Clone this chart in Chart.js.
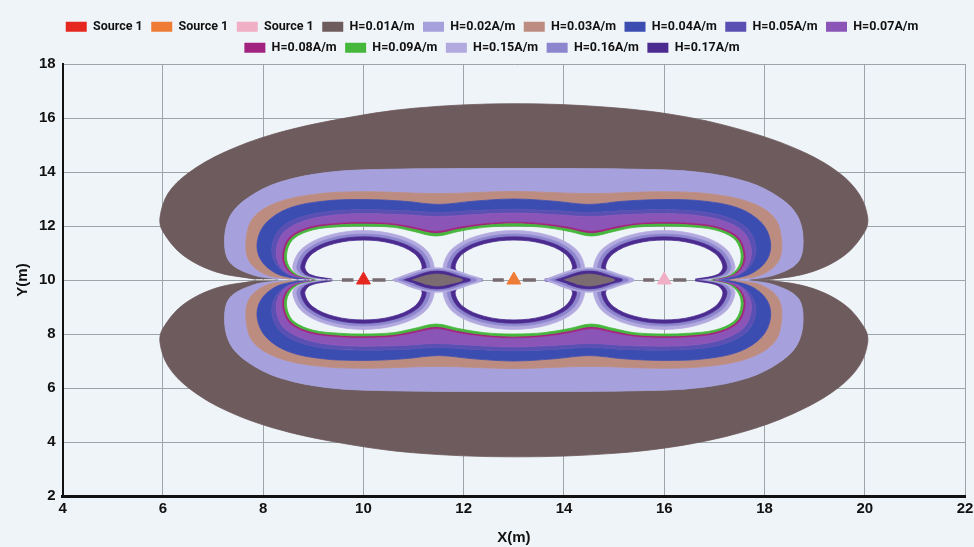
<!DOCTYPE html>
<html>
<head>
<meta charset="utf-8">
<script src="https://cdn.jsdelivr.net/npm/chart.js@4.4.1/dist/chart.umd.min.js"></script>
<style>
  html, body { margin: 0; padding: 0; background: #eff4f8; }
  #wrap { width: 974px; height: 547px; }
</style>
</head>
<body>
<div id="wrap"><canvas id="chart" width="974" height="547"></canvas></div>
<script>
// ---- Sources ----
const sourceLabels = ['Source 1', 'Source 1', 'Source 1'];
const sourceColors = ['#e5271f', '#ee7b36', '#f1afc6'];
const sourceX = [10, 13, 16];
const sourceY = [10, 10, 10];

// ---- Field-strength levels ----
const levelLabels = ['H=0.01A/m', 'H=0.02A/m', 'H=0.03A/m', 'H=0.04A/m', 'H=0.05A/m', 'H=0.07A/m',
                     'H=0.08A/m', 'H=0.09A/m', 'H=0.15A/m', 'H=0.16A/m', 'H=0.17A/m'];
const levelColors = ['#6d5b5d', '#a6a1dc', '#bd8c80', '#3c4db2', '#5a50b3', '#8b55b8',
                     '#a2237f', '#45b83c', '#b2a9df', '#8d86ce', '#4b2b8f'];

// ---- Contour outlines (upper half y > 10, lower half y < 10, same x list) ----
const c01X  = [7.85, 7.06, 6.4, 6.0, 5.94, 6.1, 6.5, 7.2, 8.2, 9.5, 11.0, 13.0, 15.0, 16.5, 17.8, 18.8, 19.5, 19.9, 20.06, 20.0, 19.6, 18.94, 18.15];
const c01Up = [10.03, 10.3, 10.92, 11.79, 12.3, 13.2, 13.95, 14.71, 15.4, 15.95, 16.36, 16.53, 16.38, 16.02, 15.42, 14.72, 13.95, 13.15, 12.3, 11.79, 10.92, 10.3, 10.03];
const c01Dn = [9.97, 9.7, 9.08, 8.21, 7.7, 6.82, 6.02, 5.22, 4.52, 3.98, 3.6, 3.45, 3.58, 3.92, 4.5, 5.25, 6.05, 6.85, 7.7, 8.21, 9.08, 9.7, 9.97];

const c02X  = [8.3, 7.79, 7.33, 7.23, 7.35, 7.7, 8.32, 9.3, 10.5, 13.0, 15.5, 16.7, 17.68, 18.3, 18.65, 18.77, 18.67, 18.21, 17.7];
const c02Up = [10.03, 10.19, 10.67, 11.5, 12.4, 13.05, 13.62, 13.99, 14.1, 14.13, 14.1, 13.99, 13.62, 13.05, 12.4, 11.5, 10.67, 10.19, 10.03];
const c02Dn = [9.97, 9.81, 9.33, 8.5, 7.6, 6.95, 6.38, 6.01, 5.9, 5.87, 5.9, 6.01, 6.38, 6.95, 7.6, 8.5, 9.33, 9.81, 9.97];

const c03X  = [8.55, 8.05, 7.72, 7.66, 7.8, 8.25, 9.0, 10.0, 11.5, 13.0, 14.5, 16.0, 17.0, 17.75, 18.2, 18.34, 18.28, 17.95, 17.45];
const c03Up = [10.03, 10.2, 10.7, 11.5, 12.3, 12.85, 13.17, 13.27, 13.2, 13.28, 13.2, 13.27, 13.17, 12.85, 12.3, 11.5, 10.7, 10.2, 10.03];
const c03Dn = [9.97, 9.8, 9.3, 8.5, 7.7, 7.15, 6.83, 6.73, 6.8, 6.72, 6.8, 6.73, 6.83, 7.15, 7.7, 8.5, 9.3, 9.8, 9.97];

const c04X  = [8.7, 8.25, 7.95, 7.88, 8.05, 8.5, 9.2, 10.0, 10.8, 11.5, 12.2, 13.0, 13.8, 14.5, 15.2, 16.0, 16.8, 17.5, 17.95, 18.12, 18.05, 17.75, 17.3];
const c04Up = [10.03, 10.25, 10.75, 11.4, 12.1, 12.65, 12.92, 12.98, 12.92, 12.8, 12.92, 13.0, 12.92, 12.8, 12.92, 12.98, 12.92, 12.65, 12.1, 11.4, 10.75, 10.25, 10.03];
const c04Dn = [9.97, 9.75, 9.25, 8.6, 7.9, 7.35, 7.08, 7.02, 7.08, 7.2, 7.08, 7.0, 7.08, 7.2, 7.08, 7.02, 7.08, 7.35, 7.9, 8.6, 9.25, 9.75, 9.97];

const c05X  = [8.85, 8.45, 8.22, 8.18, 8.34, 8.75, 9.35, 10.0, 10.8, 11.5, 12.2, 13.0, 13.8, 14.5, 15.2, 16.0, 16.65, 17.25, 17.66, 17.82, 17.78, 17.55, 17.15];
const c05Up = [10.03, 10.25, 10.7, 11.3, 11.9, 12.33, 12.55, 12.6, 12.57, 12.5, 12.57, 12.62, 12.57, 12.5, 12.57, 12.6, 12.55, 12.33, 11.9, 11.3, 10.7, 10.25, 10.03];
const c05Dn = [9.97, 9.75, 9.3, 8.7, 8.1, 7.67, 7.45, 7.4, 7.43, 7.5, 7.43, 7.38, 7.43, 7.5, 7.43, 7.4, 7.45, 7.67, 8.1, 8.7, 9.3, 9.75, 9.97];

const c07X  = [8.92, 8.5, 8.3, 8.27, 8.42, 8.84, 9.4, 10.0, 10.8, 11.45, 12.2, 13.0, 13.8, 14.55, 15.2, 16.0, 16.6, 17.16, 17.58, 17.73, 17.7, 17.5, 17.08];
const c07Up = [10.03, 10.22, 10.65, 11.2, 11.78, 12.2, 12.4, 12.45, 12.42, 12.35, 12.42, 12.48, 12.42, 12.35, 12.42, 12.45, 12.4, 12.2, 11.78, 11.2, 10.65, 10.22, 10.03];
const c07Dn = [9.97, 9.78, 9.35, 8.8, 8.22, 7.8, 7.6, 7.55, 7.58, 7.65, 7.58, 7.52, 7.58, 7.65, 7.58, 7.55, 7.6, 7.8, 8.22, 8.8, 9.35, 9.78, 9.97];

const c08X  = [9.0, 8.58, 8.41, 8.4, 8.54, 8.93, 9.5, 10.0, 10.6, 11.0, 11.45, 11.9, 12.4, 13.0, 13.6, 14.1, 14.55, 15.0, 15.4, 16.0, 16.5, 17.07, 17.46, 17.6, 17.59, 17.42, 17.0];
const c08Up = [10.03, 10.22, 10.6, 11.1, 11.61, 11.96, 12.1, 12.13, 12.08, 11.95, 11.8, 11.95, 12.08, 12.14, 12.08, 11.95, 11.8, 11.95, 12.08, 12.13, 12.1, 11.96, 11.61, 11.1, 10.6, 10.22, 10.03];
const c08Dn = [9.97, 9.78, 9.4, 8.9, 8.39, 8.04, 7.9, 7.87, 7.92, 8.05, 8.2, 8.05, 7.92, 7.86, 7.92, 8.05, 8.2, 8.05, 7.92, 7.87, 7.9, 8.04, 8.39, 8.9, 9.4, 9.78, 9.97];

const c09X  = [9.03, 8.62, 8.45, 8.44, 8.58, 8.97, 9.5, 10.0, 10.6, 11.0, 11.45, 11.9, 12.4, 13.0, 13.6, 14.1, 14.55, 15.0, 15.4, 16.0, 16.5, 17.03, 17.42, 17.56, 17.55, 17.38, 16.97];
const c09Up = [10.03, 10.22, 10.6, 11.1, 11.58, 11.91, 12.04, 12.07, 12.02, 11.88, 11.72, 11.88, 12.02, 12.08, 12.02, 11.88, 11.72, 11.88, 12.02, 12.07, 12.04, 11.91, 11.58, 11.1, 10.6, 10.22, 10.03];
const c09Dn = [9.97, 9.78, 9.4, 8.9, 8.42, 8.09, 7.96, 7.93, 7.98, 8.12, 8.28, 8.12, 7.98, 7.92, 7.98, 8.12, 8.28, 8.12, 7.98, 7.93, 7.96, 8.09, 8.42, 8.9, 9.4, 9.78, 9.97];

// inner edge of the H=0.09 band (the unshaded gap up to 0.15 lies inside it)
const c10X  = [9.06, 8.66, 8.49, 8.48, 8.62, 9.0, 9.5, 10.0, 10.6, 11.0, 11.45, 11.9, 12.4, 13.0, 13.6, 14.1, 14.55, 15.0, 15.4, 16.0, 16.5, 17.0, 17.38, 17.52, 17.51, 17.34, 16.94];
const c10Up = [10.03, 10.22, 10.6, 11.1, 11.55, 11.86, 11.97, 12.0, 11.95, 11.8, 11.63, 11.8, 11.95, 12.0, 11.95, 11.8, 11.63, 11.8, 11.95, 12.0, 11.97, 11.86, 11.55, 11.1, 10.6, 10.22, 10.03];
const c10Dn = [9.97, 9.78, 9.4, 8.9, 8.45, 8.14, 8.03, 8.0, 8.05, 8.2, 8.37, 8.2, 8.05, 8.0, 8.05, 8.2, 8.37, 8.2, 8.05, 8.0, 8.03, 8.14, 8.45, 8.9, 9.4, 9.78, 9.97];

// ---- Rings around each source (0.15 / 0.16 / 0.17 outer edges, then the inner hole) ----
const r15Up = [10.03, 10.2, 10.5, 11.17, 11.65, 11.83, 11.65, 11.17, 10.5, 10.2, 10.03];
const r15Dn = [9.97, 9.8, 9.5, 8.83, 8.35, 8.17, 8.35, 8.83, 9.5, 9.8, 9.97];
const r15X = [
  [9.1, 8.69, 8.59, 8.78, 9.3, 10.0, 10.7, 11.22, 11.41, 11.31, 10.9],
  [12.1, 11.69, 11.59, 11.78, 12.3, 13.0, 13.7, 14.22, 14.41, 14.31, 13.9],
  [15.1, 14.69, 14.59, 14.78, 15.3, 16.0, 16.7, 17.22, 17.41, 17.31, 16.9]
];
const r16Up = [10.03, 10.2, 10.5, 11.1, 11.54, 11.7, 11.54, 11.1, 10.5, 10.2, 10.03];
const r16Dn = [9.97, 9.8, 9.5, 8.9, 8.46, 8.3, 8.46, 8.9, 9.5, 9.8, 9.97];
const r16X = [
  [9.19, 8.77, 8.67, 8.85, 9.34, 10.0, 10.66, 11.15, 11.33, 11.23, 10.81],
  [12.19, 11.77, 11.67, 11.85, 12.34, 13.0, 13.66, 14.15, 14.33, 14.23, 13.81],
  [15.19, 14.77, 14.67, 14.85, 15.34, 16.0, 16.66, 17.15, 17.33, 17.23, 16.81]
];
const r17Up = [10.03, 10.2, 10.5, 11.05, 11.45, 11.6, 11.45, 11.05, 10.5, 10.2, 10.03];
const r17Dn = [9.97, 9.8, 9.5, 8.95, 8.55, 8.4, 8.55, 8.95, 9.5, 9.8, 9.97];
const r17X = [
  [9.28, 8.85, 8.75, 8.92, 9.38, 10.0, 10.62, 11.08, 11.25, 11.15, 10.72],
  [12.28, 11.85, 11.75, 11.92, 12.38, 13.0, 13.62, 14.08, 14.25, 14.15, 13.72],
  [15.28, 14.85, 14.75, 14.92, 15.38, 16.0, 16.62, 17.08, 17.25, 17.15, 16.72]
];
const r18Up = [10.03, 10.2, 10.5, 10.99, 11.35, 11.48, 11.35, 10.99, 10.5, 10.2, 10.03];
const r18Dn = [9.97, 9.8, 9.5, 9.01, 8.65, 8.52, 8.65, 9.01, 9.5, 9.8, 9.97];
const r18X = [
  [9.38, 8.94, 8.83, 8.99, 9.42, 10.0, 10.58, 11.01, 11.17, 11.06, 10.62],
  [12.38, 11.94, 11.83, 11.99, 12.42, 13.0, 13.58, 14.01, 14.17, 14.06, 13.62],
  [15.38, 14.94, 14.83, 14.99, 15.42, 16.0, 16.58, 17.01, 17.17, 17.06, 16.62]
];

// ---- Lens-shaped cells on y = 10 between neighbouring sources ----
const d15Y = [10.0, 10.2, 10.38, 10.45, 10.38, 10.2, 10.0, 9.8, 9.62, 9.55, 9.62, 9.8];
const d15X = [
  [10.57, 10.85, 11.15, 11.47, 11.79, 12.09, 12.37, 12.09, 11.79, 11.47, 11.15, 10.85],
  [13.6, 13.88, 14.18, 14.5, 14.82, 15.12, 15.4, 15.12, 14.82, 14.5, 14.18, 13.88]
];
const d16Y = [10.0, 10.17, 10.33, 10.39, 10.33, 10.17, 10.0, 9.83, 9.67, 9.61, 9.67, 9.83];
const d16X = [
  [10.68, 10.94, 11.2, 11.47, 11.74, 12.0, 12.26, 12.0, 11.74, 11.47, 11.2, 10.94],
  [13.71, 13.97, 14.23, 14.5, 14.77, 15.03, 15.29, 15.03, 14.77, 14.5, 14.23, 13.97]
];
const d17Y = [10.0, 10.14, 10.28, 10.33, 10.28, 10.14, 10.0, 9.86, 9.72, 9.67, 9.72, 9.86];
const d17X = [
  [10.8, 11.03, 11.25, 11.47, 11.69, 11.91, 12.14, 11.91, 11.69, 11.47, 11.25, 11.03],
  [13.83, 14.06, 14.28, 14.5, 14.72, 14.94, 15.17, 14.94, 14.72, 14.5, 14.28, 14.06]
];
const coreY = [10.0, 10.14, 10.22, 10.14, 10.0, 9.86, 9.78, 9.86];
const coreX = [
  [10.97, 11.2, 11.47, 11.74, 11.98, 11.74, 11.47, 11.2],
  [14.0, 14.23, 14.5, 14.77, 15.01, 14.77, 14.5, 14.23]
];

// ---- Short low-field streaks along y = 10 beside each source ----
const streakStart = [9.57, 10.18, 12.58, 13.18, 15.58, 16.18];
const streakEnd   = [9.8, 10.44, 12.8, 13.44, 15.8, 16.44];
const streakColor = '#776a6e';

// ---------------------------------------------------------------------------
const FONT = "'Liberation Sans', Arial, sans-serif";

function pts(xs, ys) { return xs.map((x, i) => ({ x, y: ys[i] })); }
function bandPath(ox, oy, ix, iy) { return pts(ox, oy).concat(pts(ix, iy).reverse()); }

let order = 1000;
function area(data, color) {
  return {
    type: 'line', data, fill: 'shape', tension: 0.35,
    backgroundColor: color, borderColor: color, borderWidth: 0.8,
    pointRadius: 0, pointHoverRadius: 0, order: order--
  };
}

const datasets = [];
const bandEdges = [
  [c01X, c01Up, c01Dn], [c02X, c02Up, c02Dn], [c03X, c03Up, c03Dn], [c04X, c04Up, c04Dn],
  [c05X, c05Up, c05Dn], [c07X, c07Up, c07Dn], [c08X, c08Up, c08Dn], [c09X, c09Up, c09Dn],
  [c10X, c10Up, c10Dn]
];
// the eight outer bands: each lies between one outline and the next
for (let k = 0; k < 8; k++) {
  const [ox, oUp, oDn] = bandEdges[k];
  const [ix, iUp, iDn] = bandEdges[k + 1];
  datasets.push(area(bandPath(ox, oUp, ix, iUp), levelColors[k]));
  datasets.push(area(bandPath(ox, oDn, ix, iDn), levelColors[k]));
}
// rings round the three sources
const ringEdges = [[r15X, r15Up, r15Dn], [r16X, r16Up, r16Dn], [r17X, r17Up, r17Dn], [r18X, r18Up, r18Dn]];
for (let k = 0; k < 3; k++) {
  const [ox, oUp, oDn] = ringEdges[k];
  const [ix, iUp, iDn] = ringEdges[k + 1];
  for (let s = 0; s < 3; s++) {
    datasets.push(area(bandPath(ox[s], oUp, ix[s], iUp), levelColors[8 + k]));
    datasets.push(area(bandPath(ox[s], oDn, ix[s], iDn), levelColors[8 + k]));
  }
}
// lens cells
const lensLayers = [[d15X, d15Y, levelColors[8]], [d16X, d16Y, levelColors[9]], [d17X, d17Y, levelColors[10]], [coreX, coreY, '#7a6c70']];
for (const [xs, ys, col] of lensLayers) {
  for (let s = 0; s < 2; s++) datasets.push(area(pts(xs[s], ys), col));
}
// streaks
const streakData = [];
streakStart.forEach((x0, i) => {
  if (i > 0) streakData.push({ x: (streakEnd[i - 1] + x0) / 2, y: null });
  streakData.push({ x: x0, y: 10 }, { x: streakEnd[i], y: 10 });
});
datasets.push({
  type: 'line', data: streakData, borderColor: streakColor, borderWidth: 3.5,
  pointRadius: 0, fill: false, spanGaps: false, order: order--
});
// source markers
sourceX.forEach((x, i) => {
  datasets.push({
    type: 'line', label: sourceLabels[i], data: [{ x, y: sourceY[i] }], showLine: false,
    pointStyle: 'triangle', pointRadius: 8, pointBackgroundColor: sourceColors[i],
    pointBorderColor: sourceColors[i], pointBorderWidth: 1, order: order--
  });
});

const legendText = sourceLabels.concat(levelLabels);
const legendColor = sourceColors.concat(levelColors);

new Chart(document.getElementById('chart'), {
  type: 'line',
  data: { datasets },
  options: {
    responsive: false,
    animation: false,
    events: [],
    layout: { padding: { left: 11, right: 1, top: 12, bottom: 0 } },
    plugins: {
      tooltip: { enabled: false },
      legend: {
        position: 'top',
        labels: {
          boxWidth: 21, boxHeight: 10, padding: 8.5, color: '#111',
          font: { family: 'Roboto', weight: 'bold', size: 12.5 },
          generateLabels: () => legendText.map((text, i) => ({
            text, fillStyle: legendColor[i], strokeStyle: legendColor[i],
            lineWidth: 0, hidden: false, fontColor: '#111'
          }))
        }
      }
    },
    scales: {
      x: {
        type: 'linear', min: 4, max: 22,
        ticks: { stepSize: 2, color: '#111', padding: 4, maxRotation: 0,
                 font: { family: FONT, weight: 'bold', size: 15 } },
        grid: { color: '#9ca4a9', lineWidth: 1, drawTicks: false },
        border: { color: '#111', width: 3 },
        title: { display: true, text: 'X(m)', color: '#111', padding: { top: 7, bottom: 0 },
                 font: { family: FONT, weight: 'bold', size: 15 } },
        afterFit: (s) => { s.paddingRight = 0; }
      },
      y: {
        type: 'linear', min: 2, max: 18,
        ticks: { stepSize: 2, color: '#111', padding: 7,
                 font: { family: FONT, weight: 'bold', size: 15 } },
        grid: { color: '#9ca4a9', lineWidth: 1, drawTicks: false },
        border: { color: '#111', width: 2 },
        title: { display: true, text: 'Y(m)', color: '#111', padding: { top: 3, bottom: 0 },
                 font: { family: FONT, weight: 'bold', size: 15 } }
      }
    }
  }
});
</script>
</body>
</html>
